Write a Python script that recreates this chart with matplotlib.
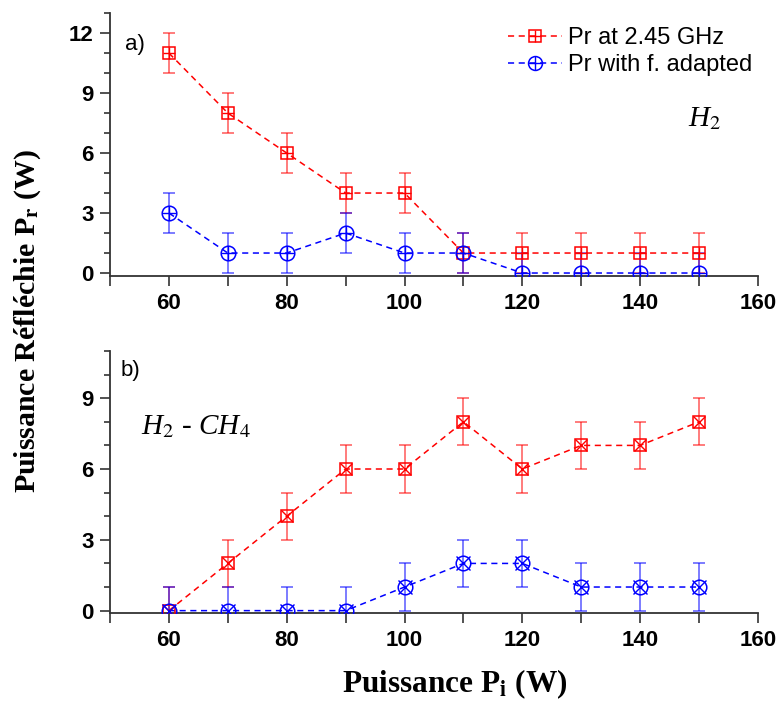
import matplotlib
matplotlib.use('Agg')
import matplotlib.pyplot as plt
from matplotlib.ticker import MultipleLocator
from matplotlib.lines import Line2D

plt.rcParams['mathtext.fontset'] = 'stix'

# puissance incidente (W)
p_inc = [60, 70, 80, 90, 100, 110, 120, 130, 140, 150]

# a) H2
h2_245 = [11, 8, 6, 4, 4, 1, 1, 1, 1, 1]
h2_adapt = [3, 1, 1, 2, 1, 1, 0, 0, 0, 0]
# b) H2 - CH4
ch4_245 = [0, 2, 4, 6, 6, 8, 6, 7, 7, 8]
ch4_adapt = [0, 0, 0, 0, 1, 2, 2, 1, 1, 1]
err = 1

xticks = [60, 80, 100, 120, 140, 160]
yticks_a = [0, 3, 6, 9, 12]
yticks_b = [0, 3, 6, 9]

tick_font = dict(family='Liberation Sans', weight='bold', size=16)
DASH = (0, (4, 3))


def trace(ax, x, y, color, shape, inner):
    ax.errorbar(x, y, yerr=err, fmt='none', ecolor=color, alpha=0.6,
                elinewidth=1.2, capsize=4, capthick=1.2, zorder=2)
    ax.plot(x, y, ls=DASH, lw=1.1, color=color, zorder=3)
    ms = 9 if shape == 's' else 10.5
    ax.plot(x, y, ls='none', marker=shape, ms=ms, mfc='none', mec=color,
            mew=1.1, zorder=4)
    ax.plot(x, y, ls='none', marker=inner, ms=ms * 0.95, mec=color,
            mew=1.0, zorder=4)


def style(ax, ylim, yticks):
    ax.set_xlim(50, 160)
    ax.set_ylim(*ylim)
    ax.set_xticks(xticks)
    ax.set_yticks(yticks)
    ax.xaxis.set_minor_locator(MultipleLocator(10))
    ax.yaxis.set_minor_locator(MultipleLocator(1))
    for s in ['top', 'right']:
        ax.spines[s].set_visible(False)
    for s in ['left', 'bottom']:
        ax.spines[s].set_color('#333333')
        ax.spines[s].set_linewidth(1.3)
    ax.tick_params(axis='both', which='both', direction='out',
                   color='#333333', width=1.2, pad=5)
    ax.tick_params(axis='x', which='both', length=7)
    ax.tick_params(axis='y', which='major', length=7)
    ax.tick_params(axis='y', which='minor', length=4)
    for lab in ax.get_xticklabels() + ax.get_yticklabels():
        lab.set_fontproperties(tick_font)


fig = plt.figure(figsize=(7.79, 7.02), dpi=100)
ax1 = fig.add_axes([0.1412, 0.6068, 0.8318, 0.3746])
ax2 = fig.add_axes([0.1412, 0.1268, 0.8318, 0.3732])

trace(ax1, p_inc, h2_245, '#ff0000', 's', '+')
trace(ax1, p_inc, h2_adapt, '#0000ff', 'o', '+')
style(ax1, (-0.15, 13), yticks_a)

trace(ax2, p_inc, ch4_245, '#ff0000', 's', 'x')
trace(ax2, p_inc, ch4_adapt, '#0000ff', 'o', 'x')
style(ax2, (-0.1, 11), yticks_b)

# legende
h_red = (Line2D([], [], ls=DASH, lw=1.1, color='#ff0000'),
         Line2D([], [], ls='none', marker='s', ms=9, mfc='none', mec='#ff0000', mew=1.1),
         Line2D([], [], ls='none', marker='+', ms=8.5, mec='#ff0000', mew=1.0))
h_blue = (Line2D([], [], ls=DASH, lw=1.1, color='#0000ff'),
          Line2D([], [], ls='none', marker='o', ms=10, mfc='none', mec='#0000ff', mew=1.1),
          Line2D([], [], ls='none', marker='+', ms=9.5, mec='#0000ff', mew=1.0))
fig.legend([h_red, h_blue], ['Pr at 2.45 GHz', 'Pr with f. adapted'],
           loc='upper left', bbox_to_anchor=(508 / 779, 1 - 27 / 702),
           frameon=False, borderpad=0, borderaxespad=0,
           prop=dict(family='Liberation Sans', size=17), handlelength=2.3,
           handletextpad=0.25, labelspacing=0.23)

ax1.text(0.039, 0.88, 'a)', transform=ax1.transAxes, fontsize=16,
         family='Liberation Sans', ha='center', va='center')
ax2.text(0.031, 0.927, 'b)', transform=ax2.transAxes, fontsize=16,
         family='Liberation Sans', ha='center', va='center')
ax1.text(0.918, 0.60, r'H$_2$', transform=ax1.transAxes, fontsize=21,
         family='Liberation Serif', style='italic', ha='center', va='center')
ax2.text(0.133, 0.71, r'H$_2$ - CH$_4$', transform=ax2.transAxes,
         fontsize=21, family='Liberation Serif', style='italic',
         ha='center', va='center')

fig.text(0.035, 0.543, r'Puissance Réfléchie P$_{\mathbf{r}}$ (W)', rotation=90,
         ha='center', va='center', family='Liberation Serif', weight='bold',
         fontsize=21.5)
fig.text(0.584, 0.025, r'Puissance P$_{\mathbf{i}}$ (W)', ha='center',
         va='center', family='Liberation Serif', weight='bold', fontsize=22.5)

fig.savefig('out.png', dpi=100)
